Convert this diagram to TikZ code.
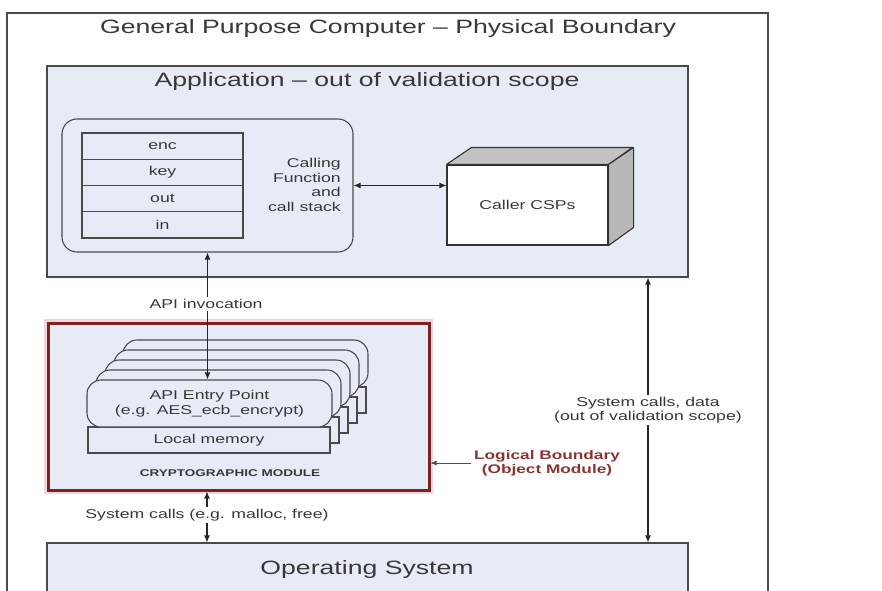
\documentclass[tikz,border=0pt]{standalone}
\usepackage{fontspec}
\setmainfont{Liberation Sans}[FakeStretch=1.38]
\usetikzlibrary{arrows.meta}
\definecolor{boxfill}{HTML}{E7EBF5}
\definecolor{edge}{HTML}{4A4A4A}
\definecolor{txt}{HTML}{383838}
\definecolor{redb}{HTML}{7B2222}
\definecolor{halo}{HTML}{F5D6D6}
\definecolor{lbl}{HTML}{8A3535}
\definecolor{cubetop}{HTML}{C2C2C2}
\definecolor{cubeside}{HTML}{B8B8B8}
\tikzset{
  box/.style={draw=edge, fill=boxfill, line width=1.1pt, inner sep=0pt},
  bigtxt/.style={text=txt, font=\fontsize{19.3}{22}\selectfont, inner sep=1pt},
  smalltxt/.style={text=txt, font=\fontsize{12.8}{14.4}\selectfont, inner sep=1pt},
  lbltxt/.style={smalltxt, fill=white, inner sep=2pt, align=center},
  row/.style={box, minimum width=161pt, minimum height=26.25pt, font=\fontsize{12.8}{14.4}\selectfont, text=txt},
  card/.style={box, rounded corners=14pt, minimum width=245pt, minimum height=47pt},
  locmem/.style={box, minimum width=242pt, minimum height=26pt},
  dbl/.style={{Latex[length=7pt,width=6pt]}-{Latex[length=7pt,width=6pt]}, line width=1.1pt, draw=black!85},
  sgl/.style={-{Latex[length=6pt,width=5pt]}, line width=0.8pt, draw=black!80}
}
\begin{document}
\begin{tikzpicture}[x=1pt,y=-1pt]
\useasboundingbox (0,0) rectangle (882,590);
\clip (0,0) rectangle (882,590);
\fill[white] (0,0) rectangle (882,590);

% outer physical boundary
\node[draw=edge, fill=white, line width=1.4pt, minimum width=761pt, minimum height=597pt, inner sep=0pt] (outer) at (387.5,311.5) {};
\node[bigtxt] (outertitle) at (388,29) {General Purpose Computer – Physical Boundary};

% application box
\node[box, minimum width=641pt, minimum height=211pt] (app) at (367.5,171.5) {};
\node[bigtxt] (apptitle) at (367,82) {Application – out of validation scope};

% calling function
\node[box, rounded corners=15pt, minimum width=291pt, minimum height=133pt] (calling) at (207.5,185.5) {};
\node[row] (enc) at (162.5,146.1) {enc};
\node[row] (key) at (162.5,172.4) {key};
\node[row] (out) at (162.5,198.6) {out};
\node[row] (in)  at (162.5,224.9) {in};
\node[smalltxt, anchor=east, align=right] (callingtxt) at (342,185) {Calling\\Function\\and\\call stack};

% caller CSPs cube
\node[draw=black!80, fill=white, line width=1.1pt, minimum width=161pt, minimum height=80pt, inner sep=0pt,
      text=txt, font=\fontsize{12.8}{14.4}\selectfont] (caller) at (527.5,205) {Caller CSPs};
\draw[draw=black!80, fill=cubetop, line width=1.1pt, line join=round]
  (caller.north west) -- ++(25,-17) -- ++(161,0) -- (caller.north east) -- cycle;
\draw[draw=black!80, fill=cubeside, line width=1.1pt, line join=round]
  (caller.north east) -- ++(25,-17) -- ++(0,80) -- (caller.south east) -- cycle;

\draw[dbl] (calling.east) -- (calling.east -| caller.west);

% cryptographic module
\node[draw=halo, line width=8pt, minimum width=381pt, minimum height=167pt, inner sep=0pt] (cryptohalo) at (238.5,406.5) {};
\node[draw=redb, fill=boxfill, line width=3pt, minimum width=381pt, minimum height=167pt, inner sep=0pt] (crypto) at (238.5,406.5) {};

% stacked entry points (back to front)
\foreach \i in {4,3,2,1} {
  \node[locmem] (lm\i) at (209+9*\i,440-10*\i) {};
  \node[card] (card\i) at (209.5+9*\i,403.5-10*\i) {};
}
\node[locmem, text=txt, font=\fontsize{12.8}{14.4}\selectfont] (lm0) at (209,440) {Local memory};
\node[card, text=txt, font=\fontsize{12.8}{15.5}\selectfont, align=center] (card0) at (209.5,403.5) {API Entry Point\\(e.g. AES\_ecb\_encrypt)};
\node[text=txt, font=\bfseries\fontsize{9.8}{11}\selectfont, inner sep=1pt] (cmtxt) at (230,473) {CRYPTOGRAPHIC MODULE};

% API invocation
\coordinate (apipos) at (206,304);
\draw[dbl] (calling.south) -- (calling.south |- card0.north);
\node[lbltxt] (apiinv) at (apipos) {API invocation};

% logical boundary
\node[text=lbl, font=\bfseries\fontsize{12.5}{14}\selectfont, align=center, inner sep=3pt] (logical) at (547,463) {Logical Boundary\\(Object Module)};
\draw[sgl, draw=black!70] (logical.west) -- (crypto.east |- logical.west);

% operating system
\node[box, minimum width=641pt, minimum height=77pt] (os) at (367.5,581.5) {};
\node[bigtxt] (ostitle) at (367,569) {Operating System};

% system calls to OS from module
\coordinate (scpos) at (207,515);
\draw[dbl] (scpos |- crypto.south) -- (scpos |- os.north);
\node[lbltxt] (syscalls) at (scpos) {System calls (e.g. malloc, free)};

% system calls, data
\coordinate (sdpos) at (648,410);
\draw[dbl] (sdpos |- app.south) -- (sdpos |- os.north);
\node[lbltxt] (sysdata) at (sdpos) {System calls, data\\(out of validation scope)};
\end{tikzpicture}
\end{document}
